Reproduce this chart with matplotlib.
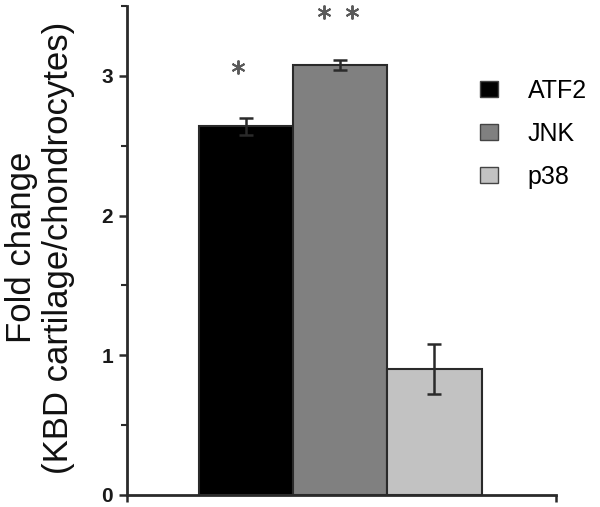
import matplotlib
matplotlib.use("Agg")
import matplotlib.pyplot as plt
from matplotlib.patches import Patch
from matplotlib.ticker import MultipleLocator

plt.rcParams['font.family'] = ['Liberation Sans', 'DejaVu Sans']

# data
proteins = ["ATF2", "JNK", "p38"]
fold_change = [2.64, 3.08, 0.90]
errors = [0.06, 0.035, 0.18]
colors = ["#000000", "#808080", "#c2c2c2"]
# significance asterisks (x in bar units, y in fold change)
star_x = [-0.085, 0.825, 1.13]
star_y = [3.06, 3.46, 3.46]

fig = plt.figure(figsize=(6, 5.07), dpi=100)
ax = fig.add_axes([0.2117, 0.0237, 0.715, 0.9645])

xs = list(range(len(proteins)))
ax.bar(xs, fold_change, width=1.0, color=colors, edgecolor="#2a2a2a",
       linewidth=1.5, zorder=2)
ax.errorbar(xs, fold_change, yerr=errors, fmt="none", ecolor="#2a2a2a",
            elinewidth=1.8, capsize=5, capthick=1.8, zorder=3)

ax.plot(star_x, star_y, linestyle="none", marker=(6, 2, 0), markersize=10,
        markeredgewidth=1.4, color="#5a5a5a", clip_on=False, zorder=4)

ax.set_xlim(-1.26, 3.29)
ax.set_ylim(0, 3.5)
ax.set_xticks([-1.26, 3.29])
ax.set_xticklabels([])
ax.tick_params(axis="x", length=5, width=1.8, color="#2a2a2a")
ax.yaxis.set_major_locator(MultipleLocator(1))
ax.yaxis.set_minor_locator(MultipleLocator(0.5))
ax.tick_params(axis="y", which="major", length=6, width=1.8,
               color="#2a2a2a", labelsize=15, pad=4)
ax.tick_params(axis="y", which="minor", length=4, width=1.5, color="#2a2a2a")
for lab in ax.get_yticklabels():
    lab.set_fontweight("bold")
    lab.set_color("#1a1a1a")

for side in ["top", "right"]:
    ax.spines[side].set_visible(False)
for side in ["left", "bottom"]:
    ax.spines[side].set_linewidth(2)
    ax.spines[side].set_color("#2a2a2a")

fig.text(0.035, 0.513, "Fold change", rotation=90, ha="center", va="center",
         fontsize=25, color="#111111")
fig.text(0.097, 0.512, "(KBD cartilage/chondrocytes)", rotation=90,
         ha="center", va="center", fontsize=25, color="#111111")

handles = [Patch(facecolor=c, edgecolor="#444444", linewidth=1) for c in colors]
fig.legend(handles, proteins, loc="center left",
           bbox_to_anchor=(480 / 600, 1 - 134 / 507), frameon=False,
           fontsize=18, handlelength=0.7, handleheight=0.6,
           handletextpad=1.2, labelspacing=0.76, borderpad=0,
           borderaxespad=0)

fig.savefig("out.png", dpi=100)
